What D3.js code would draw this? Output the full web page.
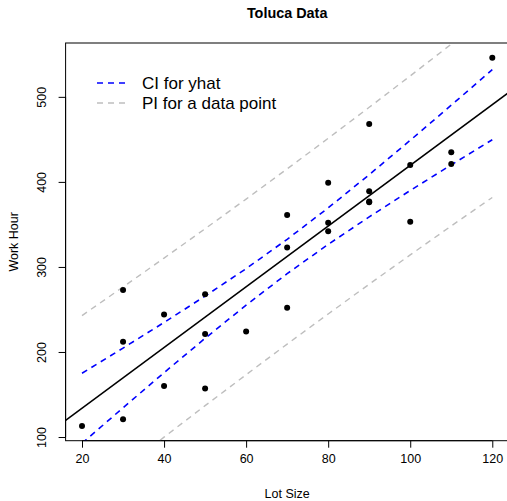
<!doctype html>
<html>
<head>
    <script src="https://cdn.jsdelivr.net/npm/d3@7"></script>
    <style>
        body { margin: 0; background: #fff; }
        text { font-family: "Liberation Sans", Arial, Helvetica, sans-serif; fill: #000; }
    </style>
</head>
<body>
<svg width="507" height="501"></svg>
<script>
        // Toluca data
        var lotSize   = [80, 30, 50, 90, 70, 60, 120, 80, 100, 50, 40, 70, 90, 20, 110, 100, 30, 50, 90, 110, 30, 90, 40, 80, 70];
        var workHours = [399, 121, 221, 376, 361, 224, 546, 352, 353, 157, 160, 252, 389, 113, 435, 420, 212, 268, 377, 421, 273, 468, 244, 342, 323];

        // fitted line (abline), across the whole plot width
        var fitX = [16, 124];
        var fitY = [119.5, 505.1];

        // bands at each lot size
        var bandX   = [20, 30, 40, 50, 60, 70, 80, 90, 100, 110, 120];
        var ciLower = [92.6, 134.4, 175.7, 216.1, 255.1, 292.1, 326.5, 358.9, 389.9, 420.0, 449.6];
        var ciUpper = [175.0, 204.6, 234.7, 265.7, 298.0, 332.5, 369.4, 408.5, 448.9, 490.2, 532.0];
        var piLower = [24.7, 62.5, 99.9, 136.9, 173.3, 209.3, 244.7, 279.7, 314.2, 348.2, 381.7];
        var piUpper = [242.8, 276.4, 310.4, 344.9, 379.8, 415.3, 451.2, 487.7, 524.6, 562.0, 599.9];

        var xTicks = [20, 40, 60, 80, 100, 120];
        var yTicks = [100, 200, 300, 400, 500];
        var legendLabels = ["CI for yhat", "PI for a data point"];
        var legendColors = ["#0000ff", "#bebebe"];

        var svg = d3.select("svg"),
            pLeft = 65.6, pRight = 508.7, pTop = 43, pBottom = 440.7;

        var xScale = d3.scaleLinear().domain([16, 124]).range([pLeft, pRight]),
            yScale = d3.scaleLinear().domain([95.68, 563.32]).range([pBottom, pTop]);

        svg.append("defs").append("clipPath").attr("id", "plotclip")
            .append("rect")
            .attr("x", pLeft).attr("y", pTop)
            .attr("width", pRight - pLeft).attr("height", pBottom - pTop);

        // title
        svg.append("text")
            .attr("x", (pLeft + pRight) / 2)
            .attr("y", 18)
            .attr("text-anchor", "middle")
            .style("font-size", "14.4px")
            .style("font-weight", "bold")
            .text("Toluca Data");

        // axes
        var xAxis = svg.append("g")
            .attr("transform", "translate(0," + pBottom + ")")
            .call(d3.axisBottom(xScale).tickValues(xTicks).tickSize(7).tickPadding(6));
        xAxis.select(".domain").remove();
        xAxis.append("line")
            .attr("x1", xScale(20)).attr("x2", xScale(120))
            .attr("stroke", "#000");
        xAxis.selectAll("text").style("font-size", "12.5px").attr("fill", "#000");

        var yAxis = svg.append("g")
            .attr("transform", "translate(" + pLeft + ",0)")
            .call(d3.axisLeft(yScale).tickValues(yTicks).tickSize(7));
        yAxis.select(".domain").remove();
        yAxis.append("line")
            .attr("y1", yScale(100)).attr("y2", yScale(500))
            .attr("stroke", "#000");
        yAxis.selectAll("text")
            .attr("x", null).attr("dy", null)
            .attr("text-anchor", "middle")
            .attr("transform", "translate(-23,0)rotate(-90)")
            .attr("dominant-baseline", "middle")
            .style("font-size", "12.5px").attr("fill", "#000");

        // axis labels
        svg.append("text")
            .attr("x", (pLeft + pRight) / 2)
            .attr("y", 498)
            .attr("text-anchor", "middle")
            .style("font-size", "12.5px")
            .text("Lot Size");

        svg.append("text")
            .attr("text-anchor", "middle")
            .attr("transform", "translate(18," + (pTop + pBottom) / 2 + ")rotate(-90)")
            .style("font-size", "12.5px")
            .text("Work Hour");

        var plot = svg.append("g").attr("clip-path", "url(#plotclip)");

        var line = d3.line()
            .x(function(d) { return xScale(d[0]); })
            .y(function(d) { return yScale(d[1]); });

        // regression line
        plot.append("path")
            .datum(d3.zip(fitX, fitY))
            .attr("d", line)
            .style("fill", "none")
            .style("stroke", "#000")
            .style("stroke-width", "1.5");

        // bands
        var bands = [
            [ciLower, legendColors[0], 1.6],
            [ciUpper, legendColors[0], 1.6],
            [piLower, legendColors[1], 1.4],
            [piUpper, legendColors[1], 1.4]
        ];
        bands.forEach(function(b) {
            plot.append("path")
                .datum(d3.zip(bandX, b[0]))
                .attr("d", line)
                .style("fill", "none")
                .style("stroke", b[1])
                .style("stroke-width", b[2])
                .style("stroke-dasharray", "6,5");
        });

        // points
        plot.append("g")
            .selectAll("circle")
            .data(d3.zip(lotSize, workHours))
            .enter()
            .append("circle")
            .attr("cx", function(d) { return xScale(d[0]); })
            .attr("cy", function(d) { return yScale(d[1]); })
            .attr("r", 3)
            .style("fill", "#000");

        // box
        svg.append("rect")
            .attr("x", pLeft).attr("y", pTop)
            .attr("width", pRight - pLeft).attr("height", pBottom - pTop)
            .style("fill", "none")
            .style("stroke", "#000")
            .style("stroke-width", "1");

        // legend
        var legend = svg.append("g");
        legendLabels.forEach(function(lbl, i) {
            var yy = 83 + i * 20;
            legend.append("line")
                .attr("x1", 97).attr("x2", 129)
                .attr("y1", yy).attr("y2", yy)
                .style("stroke", legendColors[i])
                .style("stroke-width", i === 0 ? 1.6 : 1.4)
                .style("stroke-dasharray", "6,5");
            legend.append("text")
                .attr("x", 142)
                .attr("y", yy)
                .attr("dy", "0.36em")
                .style("font-size", "17px")
                .text(lbl);
        });
</script>
</body>
</html>
